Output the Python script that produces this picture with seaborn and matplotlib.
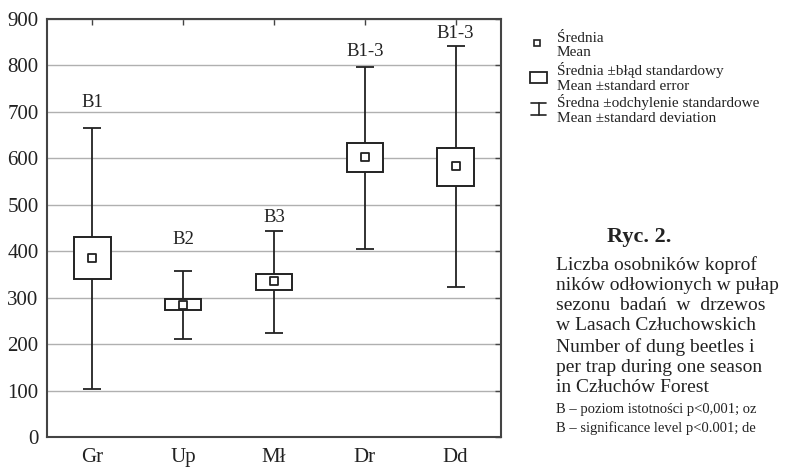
import numpy as np
import pandas as pd
import seaborn as sns
import matplotlib.pyplot as plt
from matplotlib.lines import Line2D
from matplotlib.patches import Rectangle

# stand types and summary stats
categories = ['Gr', 'Up', 'Mł', 'Dr', 'Dd']
means = [385, 285, 335, 603, 584]
se_low = [340, 273, 317, 570, 541]
se_high = [430, 298, 352, 632, 623]
sd_low = [103, 211, 223, 405, 323]
sd_high = [666, 358, 444, 797, 841]
sig_labels = ['B1', 'B2', 'B3', 'B1-3', 'B1-3']
sig_y = [721, 426, 472, 829, 868]

df = pd.DataFrame({'stand': categories, 'mean': means,
                   'se_lo': se_low, 'se_hi': se_high,
                   'sd_lo': sd_low, 'sd_hi': sd_high})
df['x'] = np.arange(len(df))

sns.set_style('white')
plt.rcParams['font.family'] = ['Liberation Serif', 'DejaVu Serif']
ink = '#222222'

fig = plt.figure(figsize=(7.86, 4.67), dpi=100)
ax = fig.add_axes([0.0598, 0.0642, 0.5776, 0.8951])

# whiskers (mean +- sd)
ax.vlines(df['x'], df['sd_lo'], df['sd_hi'], color=ink, lw=1.3, zorder=2)
ax.hlines(df['sd_lo'], df['x'] - 0.1, df['x'] + 0.1, color=ink, lw=1.3, zorder=2)
ax.hlines(df['sd_hi'], df['x'] - 0.1, df['x'] + 0.1, color=ink, lw=1.3, zorder=2)

# boxes (mean +- se)
ax.bar(df['x'], df['se_hi'] - df['se_lo'], bottom=df['se_lo'], width=0.4,
       facecolor='white', edgecolor=ink, linewidth=1.4, zorder=3)

# means
sns.scatterplot(data=df, x='x', y='mean', marker='s', s=26, color='white',
                edgecolor=ink, linewidth=1.3, zorder=4, ax=ax, legend=False)

for xi, lab, yy in zip(df['x'], sig_labels, sig_y):
    ax.text(xi, yy, lab, ha='center', va='center', fontsize=13.5, color=ink)

ax.set_xlim(-0.5, 4.5)
ax.set_ylim(0, 900)
ax.set_yticks(range(0, 901, 100))
ax.set_xticks(df['x'])
ax.set_xticklabels(categories)
ax.set_xlabel('')
ax.set_ylabel('')
ax.yaxis.grid(True, color='#b0b0b0', lw=1)
ax.set_axisbelow(True)
ax.tick_params(axis='both', direction='in', length=4, width=1, color='#444444',
               labelsize=15, labelcolor=ink, top=True, right=True,
               left=False)
ax.tick_params(axis='x', pad=8)
ax.tick_params(axis='y', pad=6)
for sp in ax.spines.values():
    sp.set_color('#444444')
    sp.set_linewidth(1.5)

# legend, drawn by hand in figure pixels
def px(x, y):
    return x / 786, 1 - y / 467

fig.add_artist(Line2D([px(537, 0)[0]], [px(0, 43)[1]], marker='s', ms=5,
                      mfc='white', mec=ink, mew=1.2, transform=fig.transFigure))
fig.add_artist(Rectangle(px(530, 83), 17 / 786, 11 / 467, facecolor='white',
                         edgecolor=ink, lw=1.3, transform=fig.transFigure))
fig.add_artist(Line2D([px(538.5, 0)[0]] * 2, [px(0, 103)[1], px(0, 115)[1]],
                      color=ink, lw=1.2, transform=fig.transFigure))
for yy in (103, 115):
    fig.add_artist(Line2D([px(531, 0)[0], px(546, 0)[0]], [px(0, yy)[1]] * 2,
                          color=ink, lw=1.2, transform=fig.transFigure))

legend_lines = [('Średnia', 38), ('Mean', 53),
                ('Średnia ±błąd standardowy', 70), ('Mean ±standard error', 86),
                ('Średna ±odchylenie standardowe', 102), ('Mean ±standard deviation', 118)]
for txt, yy in legend_lines:
    fig.text(*px(557, yy), txt, fontsize=11, va='center', ha='left', color=ink)

# caption
fig.text(*px(607, 237), 'Ryc. 2.', fontsize=16, fontweight='bold', va='center', color=ink)
caption = [('Liczba osobników koprof', 265), ('ników odłowionych w pułap', 285),
           ('sezonu  badań  w  drzewos', 305), ('w Lasach Człuchowskich', 325),
           ('Number of dung beetles i', 347), ('per trap during one season', 367),
           ('in Człuchów Forest', 387)]
for txt, yy in caption:
    fig.text(*px(556, yy), txt, fontsize=14, va='center', ha='left', color=ink)
fig.text(*px(556, 410), 'B – poziom istotności p<0,001; oz', fontsize=10.5, va='center', color=ink)
fig.text(*px(556, 428), 'B – significance level p<0.001; de', fontsize=10.5, va='center', color=ink)

fig.savefig('out.png', dpi=100)
